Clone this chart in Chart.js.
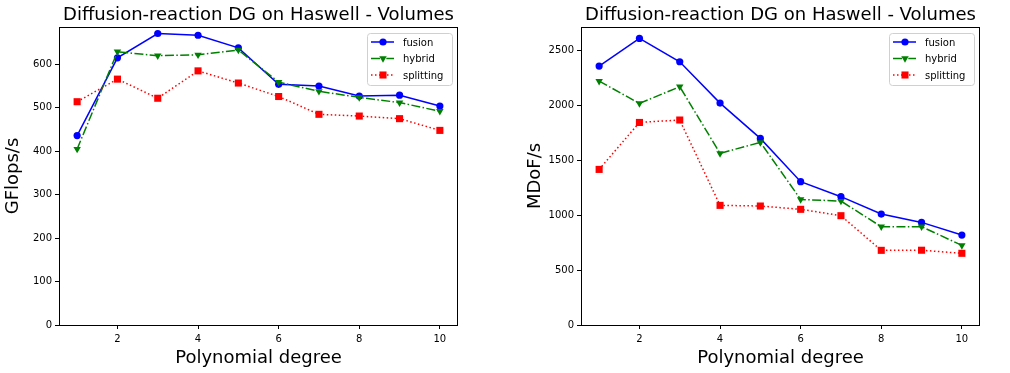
<!DOCTYPE html>
<html>
<head>
<meta charset="utf-8">
<script src="https://cdn.jsdelivr.net/npm/chart.js@4/dist/chart.umd.min.js"></script>
<style>
  html, body { margin: 0; padding: 0; background: #fff; }
  #wrap { position: relative; width: 1010px; height: 373px; }
  .box { position: absolute; top: 0; height: 373px; }
</style>
</head>
<body>
<div id="wrap">
  <div class="box" style="left:0;width:505px"><canvas id="leftChart"></canvas></div>
  <div class="box" style="left:522px;width:488px"><canvas id="rightChart"></canvas></div>
</div>
<script>
// polynomial degree on x
const degrees = [1, 2, 3, 4, 5, 6, 7, 8, 9, 10];
const seriesNames = ['fusion', 'hybrid', 'splitting'];

// GFlops/s (left plot)
const gflopsFusion = [436, 615, 671, 667, 638, 554, 550, 527, 529, 504];
const gflopsHybrid = [405, 629, 620, 622, 633, 559, 538, 524, 512, 492];
const gflopsSplitting = [514, 566, 522, 585, 557, 526, 485, 481, 475, 448];

// MDoF/s (right plot)
const mdofFusion = [2355, 2606, 2394, 2018, 1697, 1303, 1167, 1009, 933, 818];
const mdofHybrid = [2218, 2015, 2167, 1561, 1661, 1142, 1127, 894, 894, 724];
const mdofSplitting = [1415, 1842, 1864, 1088, 1082, 1052, 994, 679, 680, 652];

// tick labels
const xTicks = [2, 4, 6, 8, 10];
const gflopsTicks = [0, 100, 200, 300, 400, 500, 600];
const mdofTicks = [0, 500, 1000, 1500, 2000, 2500];

const chartTitle = 'Diffusion-reaction DG on Haswell - Volumes';

Chart.defaults.font.family = 'DejaVu Sans';
Chart.defaults.color = '#000';

const styles = [
    { color: '#0000ff', dash: [], pointStyle: 'circle', radius: 3.6, rotation: 0 },
    { color: '#008000', dash: [9, 2.4, 1.5, 2.4], pointStyle: 'triangle', radius: 4.3, rotation: 180 },
    { color: '#ff0000', dash: [1.5, 2.5], pointStyle: 'rect', radius: 5, rotation: 0 }
];

function toPoints(values) {
    return degrees.map((d, i) => ({ x: d, y: values[i] }));
}

function drawMarker(ctx, st, x, y) {
    ctx.save();
    ctx.fillStyle = st.color;
    ctx.beginPath();
    if (st.pointStyle === 'circle') {
        ctx.arc(x, y, st.radius, 0, Math.PI * 2);
    } else if (st.pointStyle === 'rect') {
        const s = st.radius * Math.SQRT1_2;
        ctx.rect(x - s, y - s, 2 * s, 2 * s);
    } else {
        const r = st.radius;
        ctx.moveTo(x, y + r);
        ctx.lineTo(x + r * 0.866, y - r / 2);
        ctx.lineTo(x - r * 0.866, y - r / 2);
        ctx.closePath();
    }
    ctx.fill();
    ctx.restore();
}

// frame, title and in-axes legend like matplotlib
const decorPlugin = {
    id: 'decor',
    afterDraw(chart) {
        const ctx = chart.ctx;
        const a = chart.chartArea;
        ctx.save();
        ctx.strokeStyle = '#000';
        ctx.lineWidth = 1;
        ctx.strokeRect(a.left + 0.5, a.top + 0.5, a.right - a.left - 1, a.bottom - a.top);

        ctx.font = '18px DejaVu Sans';
        ctx.fillStyle = '#000';
        ctx.textAlign = 'center';
        ctx.textBaseline = 'alphabetic';
        ctx.fillText(chartTitle, (a.left + a.right) / 2, 20);

        // legend box
        const bw = 85, bh = 52;
        const bx = a.right - 6 - bw, by = a.top + 6;
        ctx.beginPath();
        ctx.roundRect(bx + 0.5, by + 0.5, bw, bh, 3);
        ctx.fillStyle = 'rgba(255,255,255,0.8)';
        ctx.fill();
        ctx.strokeStyle = '#d0d0d0';
        ctx.stroke();

        ctx.font = '10px DejaVu Sans';
        ctx.textAlign = 'left';
        ctx.textBaseline = 'middle';
        seriesNames.forEach((name, i) => {
            const st = styles[i];
            const y = by + 9 + i * 16.5;
            ctx.save();
            ctx.strokeStyle = st.color;
            ctx.lineWidth = 1.5;
            ctx.setLineDash(st.dash);
            ctx.beginPath();
            ctx.moveTo(bx + 4, y);
            ctx.lineTo(bx + 27, y);
            ctx.stroke();
            ctx.restore();
            drawMarker(ctx, st, bx + 16, y);
            ctx.fillStyle = '#000';
            ctx.fillText(name, bx + 36, y + 1);
        });
        ctx.restore();
    }
};

function makeChart(id, series, yTicks, yMax, yTitle, rightPad) {
    const ctx = document.getElementById(id).getContext('2d');
    return new Chart(ctx, {
        type: 'line',
        data: {
            datasets: series.map((vals, i) => ({
                label: seriesNames[i],
                data: toPoints(vals),
                borderColor: styles[i].color,
                backgroundColor: styles[i].color,
                borderWidth: 1.5,
                borderDash: styles[i].dash,
                pointStyle: styles[i].pointStyle,
                pointRadius: styles[i].radius,
                pointRotation: styles[i].rotation,
                pointBorderWidth: 0,
                tension: 0,
                fill: false,
                order: 3 - i
            }))
        },
        options: {
            responsive: true,
            maintainAspectRatio: false,
            animation: false,
            layout: { padding: { top: 27, right: rightPad, left: 0, bottom: 0 } },
            plugins: {
                legend: { display: false },
                title: { display: false },
                tooltip: { enabled: false }
            },
            scales: {
                x: {
                    type: 'linear',
                    min: 0.55,
                    max: 10.45,
                    afterBuildTicks: s => { s.ticks = xTicks.map(v => ({ value: v })); },
                    afterFit: s => { s.height = 48; },
                    grid: { drawOnChartArea: false, drawTicks: true, tickLength: 4, color: '#000' },
                    border: { display: false },
                    ticks: { color: '#000', font: { size: 10 }, padding: 4, maxRotation: 0, callback: v => String(v) },
                    title: { display: true, text: 'Polynomial degree', font: { size: 18 }, color: '#000', padding: { top: 0, bottom: 4 } }
                },
                y: {
                    type: 'linear',
                    min: 0,
                    max: yMax,
                    afterBuildTicks: s => { s.ticks = yTicks.map(v => ({ value: v })); },
                    afterFit: s => { s.width = 59; },
                    grid: { drawOnChartArea: false, drawTicks: true, tickLength: 4, color: '#000' },
                    border: { display: false },
                    ticks: { color: '#000', font: { size: 10 }, padding: 3, callback: v => String(v) },
                    title: { display: true, text: yTitle, font: { size: 18 }, color: '#000', padding: { top: 3, bottom: 0 } }
                }
            }
        },
        plugins: [decorPlugin]
    });
}

makeChart('leftChart', [gflopsFusion, gflopsHybrid, gflopsSplitting], gflopsTicks, 686, 'GFlops/s', 47);
makeChart('rightChart', [mdofFusion, mdofHybrid, mdofSplitting], mdofTicks, 2710, 'MDoF/s', 30);
</script>
</body>
</html>
